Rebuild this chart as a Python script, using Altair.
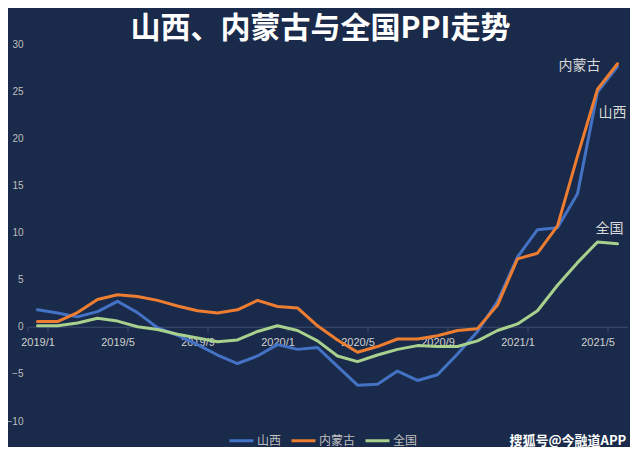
import altair as alt
import pandas as pd

months = ["2019/1", "2019/2", "2019/3", "2019/4", "2019/5", "2019/6", "2019/7", "2019/8",
          "2019/9", "2019/10", "2019/11", "2019/12", "2020/1", "2020/2", "2020/3", "2020/4",
          "2020/5", "2020/6", "2020/7", "2020/8", "2020/9", "2020/10", "2020/11", "2020/12",
          "2021/1", "2021/2", "2021/3", "2021/4", "2021/5", "2021/6"]
shanxi = [1.8, 1.45, 1.05, 1.6, 2.7, 1.5, -0.1, -0.9, -1.9, -3.0, -3.9, -3.1, -1.9, -2.4, -2.2,
          -4.2, -6.2, -6.1, -4.7, -5.7, -5.1, -2.9, -0.5, 2.7, 7.4, 10.3, 10.5, 14.1, 24.9, 27.6]
neimenggu = [0.55, 0.55, 1.5, 2.9, 3.4, 3.2, 2.8, 2.2, 1.7, 1.45, 1.8, 2.8, 2.15, 2.0, 0.1,
             -1.4, -2.7, -2.1, -1.3, -1.3, -0.95, -0.4, -0.2, 2.3, 7.2, 7.8, 10.7, 18.1, 25.2, 27.9]
quanguo = [0.1, 0.1, 0.4, 0.9, 0.6, 0.0, -0.3, -0.8, -1.2, -1.6, -1.4, -0.5, 0.1, -0.4, -1.5,
           -3.1, -3.7, -3.0, -2.4, -2.0, -2.1, -2.1, -1.5, -0.4, 0.3, 1.7, 4.4, 6.8, 9.0, 8.8]
series_names = ["山西", "内蒙古", "全国"]
colors = ["#4472C4", "#ED7D31", "#A9D18E"]
y_ticks = [-10, -5, 0, 5, 10, 15, 20, 25, 30]
x_label_months = ["2019/1", "2019/5", "2019/9", "2020/1", "2020/5", "2020/9", "2021/1", "2021/5"]
title_text = "山西、内蒙古与全国PPI走势"
watermark = "搜狐号@今融道APP"

rows = []
for name, vals in zip(series_names, [shanxi, neimenggu, quanguo]):
    for m, v in zip(months, vals):
        rows.append({"month": m, "series": name, "value": v})
df = pd.DataFrame(rows)

W, H = 600, 377
Y_MIN, Y_MAX = -10, 30
BG = "#1a2a4a"
CJK = "Noto Sans CJK SC"
NUM = "Liberation Sans"

x_axis = alt.Axis(values=x_label_months, title=None, labelAngle=0,
                  offset=-H * (0 - Y_MIN) / (Y_MAX - Y_MIN), tickBand="extent",
                  domainColor="#3b4c6e", tickColor="#3b4c6e", tickSize=5,
                  labelColor="#d0d0d0", labelFont=NUM, labelFontSize=11, labelPadding=5,
                  grid=False)
y_axis = alt.Axis(values=y_ticks, title=None, grid=False, domain=False, ticks=False,
                  labelColor="#bfbfbf", labelFont=NUM, labelFontSize=10, labelPadding=4.5)

x_enc = alt.X("month:O", sort=months,
              scale=alt.Scale(type="band", paddingInner=0, paddingOuter=0), axis=x_axis)
y_enc = alt.Y("value:Q", scale=alt.Scale(domain=[Y_MIN, Y_MAX], nice=False, zero=False), axis=y_axis)

lines = alt.Chart(df).mark_line(strokeWidth=3, strokeJoin="round", strokeCap="round").encode(
    x=x_enc,
    y=y_enc,
    color=alt.Color("series:N", sort=series_names,
                    scale=alt.Scale(domain=series_names, range=colors),
                    legend=alt.Legend(title=None, orient="none", direction="horizontal",
                                      legendX=200.5, legendY=383, symbolType="stroke",
                                      symbolSize=576, symbolStrokeWidth=3, labelFont=CJK,
                                      labelFontSize=12, labelColor="#bfbfbf", labelOffset=2,
                                      columnPadding=3, padding=0)),
    order=alt.Order("series_order:Q"),
).transform_calculate(
    series_order="indexof(['山西','内蒙古','全国'], datum.series)"
)

last_month = months[-1]
label_specs = [("内蒙古", "right", -17, 2), ("山西", "left", -19, 46), ("全国", "center", -8, -15)]
label_layers = []
for name, align, dx, dy in label_specs:
    label_layers.append(
        alt.Chart(df).transform_filter(
            (alt.datum.month == last_month) & (alt.datum.series == name)
        ).mark_text(align=align, baseline="middle", dx=dx, dy=dy, font=CJK, fontSize=14,
                    color="#d9d9d9").encode(
            x=alt.X("month:O", sort=months), y=alt.Y("value:Q"), text="series:N")
    )

wm = alt.Chart(pd.DataFrame({"t": [watermark]})).mark_text(
    align="left", baseline="middle", font=CJK, fontSize=13, fontWeight="bold", color="#ffffff"
).encode(text="t:N", x=alt.value(482), y=alt.value(396.5))

chart = alt.layer(lines, *label_layers, wm).properties(
    width=W, height=H,
    autosize=alt.AutoSizeParams(type="none"),
    padding={"left": 19.5, "top": 36, "right": 2, "bottom": 26},
    title=alt.TitleParams(title_text, font=CJK, fontSize=30, fontWeight="bold", color="#ffffff",
                          anchor="middle", dx=-7, dy=10, offset=5),
    background=BG,
).configure_view(stroke=None)

chart.save("out.html", embed_options={"renderer": "svg", "actions": False})
